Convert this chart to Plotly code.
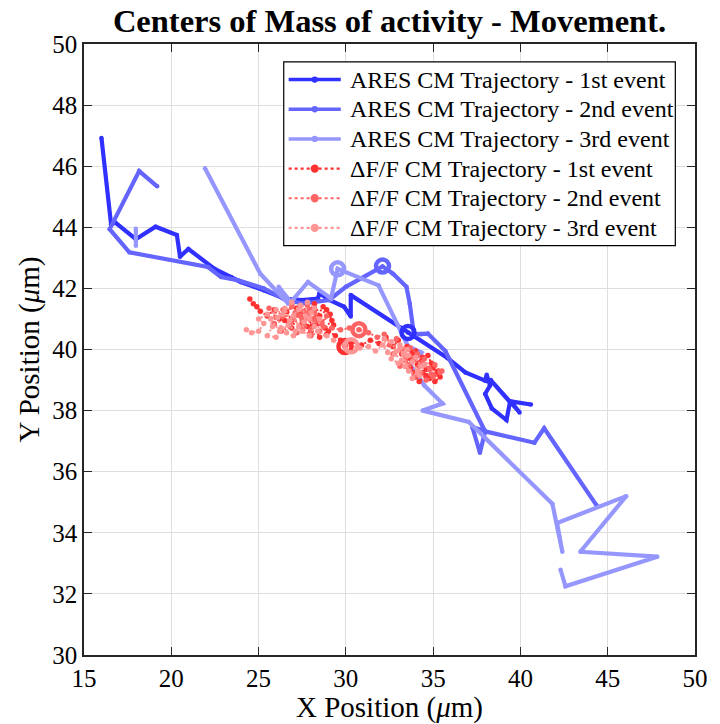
import plotly.graph_objects as go

# ARES centre-of-mass trajectories (x, y in micrometres); None breaks a line
ares1_x = [16.0, 16.55, 16.8, 17.97, 19.1, 20.32, 20.5, 20.98, 22.48, 23.42, 23.98, 25.3, 26.5, 27.5,
           28.4, 28.49, 29.05, 29.9, 30.28, 30.28, 33.56, 35.8, 36.85, 37.98, 38.07, 38.26, 37.98,
           38.36, 39.2, 39.4, 38.3, 39.4, 39.95, 39.45, 40.6]
ares1_y = [46.92, 44.1, 44.15, 43.61, 44.02, 43.75, 43.04, 43.29, 42.64, 42.37, 42.21, 41.94, 41.66, 41.62,
           41.67, 41.84, 41.62, 41.4, 41.08, 41.78, 40.56, 39.73, 39.25, 38.98, 39.17, 38.82, 38.55,
           38.07, 37.69, 38.28, 39.0, 38.3, 37.94, 38.3, 38.2]

ares2_x = [19.19, 18.16, 16.47, 17.6, 22.1, 22.85, 23.8, 25.3, 26.4, 27.5, 29.05, 30.0, 32.1, 32.7,
           33.47, 33.66, 33.9, 34.3, 34.7, 35.7, 37.95, 37.25, 37.68, 37.98, 40.8, 41.36, 44.37]
ares2_y = [45.34, 45.84, 43.94, 43.18, 42.7, 42.37, 42.27, 42.0, 41.67, 41.5, 41.62, 42.05, 42.72, 42.48,
           42.05, 41.5, 40.5, 40.5, 40.52, 39.95, 37.35, 37.45, 36.62, 37.32, 36.95, 37.42, 34.89]

ares3_x = [17.97, 17.97, None, 21.93, 25.1, 26.7, 26.15, 26.85, 27.83, 29.15, 29.53, 31.87, 33.0, 33.56,
           34.32, 33.66, 34.5, 35.54, 34.4, 37.04, 41.83, 42.4, 42.1, 46.06, 43.43, 47.84, 42.58, 42.3]
ares3_y = [43.95, 43.4, None, 45.93, 42.48, 41.5, 42.05, 41.55, 42.21, 41.67, 42.64, 42.1, 40.76, 40.11,
           39.9, 39.52, 38.82, 38.23, 38.0, 37.63, 34.95, 33.38, 34.32, 35.2, 33.38, 33.22, 32.25, 32.79]

# dF/F centre-of-mass trajectories
dff1_x = [24.5, 24.7, 24.9, 25.1, 25.5, 25.9, 26.2, 26.6, 26.9, 27.2, 27.5, 27.9, 28.2, 28.5, 28.9, 29.2,
          28.8, 28.4, 28.0, 27.6, 27.3, 26.9, 26.5, 26.9, 27.4, 27.8, 28.3, 28.7, 29.1, 29.3, 28.9, 28.5,
          28.1, 27.7, 28.2, 28.6, 29.0, 29.4, 29.7, 29.95, 30.4, 30.9, 31.4, 31.9, 32.3, 32.7, 33.0, 33.2,
          33.5, 33.7, 34.0, 34.1, 34.4, 34.6, 34.9, 35.2, 34.8, 34.4, 34.0, 33.7, 33.4, 33.8, 34.3, 34.7,
          35.0, 35.4, 35.1, 34.6, 34.2, 33.9, 34.5, 35.3]
dff1_y = [41.65, 41.5, 41.4, 41.25, 41.1, 41.3, 41.0, 41.25, 40.95, 41.35, 40.85, 41.2, 41.5, 41.1, 41.3, 40.95,
          40.7, 40.85, 40.6, 40.95, 41.15, 40.7, 40.95, 41.45, 41.2, 40.75, 41.05, 41.4, 41.15, 40.8, 40.5, 40.4,
          40.8, 41.05, 41.3, 40.9, 40.6, 40.45, 40.3, 40.1, 40.25, 40.15, 40.3, 40.2, 40.4, 40.1, 40.3, 39.85,
          40.1, 39.7, 39.95, 39.5, 39.75, 39.35, 39.55, 39.2, 39.05, 39.25, 39.1, 39.4, 39.65, 39.9, 39.6, 39.8,
          39.4, 39.1, 38.95, 39.15, 38.95, 39.25, 39.5, 39.3]

dff2_x = [25.6, 26.0, 26.4, 26.8, 27.1, 27.5, 27.9, 28.3, 28.0, 27.6, 27.2, 26.8, 26.3, 25.9, 26.4, 26.9,
          27.4, 27.8, 28.2, 28.6, 28.9, 28.5, 28.0, 27.5, 27.0, 27.6, 28.1, 28.7, 29.2, 29.7, 30.2, 30.75,
          31.3, 31.8, 32.2, 32.5, 32.9, 32.7, 33.2, 33.4, 33.1, 33.6, 33.9, 34.2, 34.5, 34.8, 35.1, 35.4,
          35.0, 34.6, 34.3, 33.9, 33.6, 33.3, 33.7, 34.1, 34.4, 34.9, 35.5]
dff2_y = [41.35, 41.05, 41.3, 40.85, 41.2, 40.95, 41.3, 40.95, 40.65, 40.8, 40.55, 40.75, 40.6, 40.85, 41.1, 41.4,
          41.1, 41.45, 41.2, 40.85, 41.1, 40.6, 40.45, 40.7, 41.0, 41.25, 41.0, 40.75, 40.7, 40.65, 40.7, 40.65,
          40.55, 40.4, 40.5, 40.15, 40.35, 39.85, 40.0, 39.65, 39.45, 39.35, 39.7, 39.45, 39.7, 39.35, 39.5, 39.25,
          39.1, 39.0, 39.25, 39.1, 39.5, 39.85, 40.05, 39.85, 39.55, 39.2, 39.3]

dff3_x = [24.3, 24.6, 25.0, 25.3, 25.0, 25.5, 25.8, 25.5, 26.0, 26.3, 26.1, 26.5, 26.8, 26.6, 27.0, 27.3,
          27.0, 27.4, 27.7, 27.5, 27.9, 28.2, 27.9, 28.2, 27.8, 27.3, 26.9, 26.4, 26.0, 25.7, 26.2, 26.7,
          27.1, 27.6, 28.0, 28.5, 28.4, 28.9, 29.3, 29.8, 30.3, 30.8, 31.3, 31.7, 32.1, 32.4, 32.2, 32.6,
          32.9, 32.6, 33.0, 33.3, 33.1, 33.5, 33.4, 33.8, 34.1, 33.8, 34.3, 34.0, 33.6, 33.2, 32.8, 33.1,
          33.6, 34.2, 34.5]
dff3_y = [40.65, 40.55, 40.6, 40.85, 41.0, 41.15, 40.75, 40.45, 40.4, 40.7, 41.05, 41.35, 40.95, 40.55, 40.45, 40.75,
          41.1, 41.45, 41.1, 40.6, 40.45, 40.75, 41.0, 41.35, 41.55, 41.3, 41.55, 41.15, 41.3, 41.0, 40.6, 40.8,
          40.6, 40.9, 41.2, 41.0, 40.6, 40.45, 40.3, 40.2, 40.12, 40.05, 40.1, 39.95, 40.15, 39.9, 40.35, 40.25,
          39.95, 39.7, 39.55, 39.85, 40.15, 40.0, 39.45, 39.6, 39.3, 39.05, 39.45, 39.75, 39.8, 39.65, 39.85, 40.05,
          39.3, 39.15, 39.5]

# highlighted centre of each trajectory
ares_mark_x = [33.56, 32.1, 29.53]
ares_mark_y = [40.56, 42.73, 42.64]
dff_mark_x = [29.95, 30.75, 30.3]
dff_mark_y = [40.1, 40.65, 40.12]

labels = [
    "ARES CM Trajectory - 1st event",
    "ARES CM Trajectory - 2nd event",
    "ARES CM Trajectory - 3rd event",
    "\u0394F/F CM Trajectory - 1st event",
    "\u0394F/F CM Trajectory - 2nd event",
    "\u0394F/F CM Trajectory - 3rd event",
]

blues = ["#3030ff", "#6464ff", "#9696ff"]
reds = ["#ff3030", "#ff6464", "#ff9696"]

FONT = "Liberation Serif"
W, H = 720, 724
ML, MR, MT, MB = 84, 15, 44, 62
PW, PH = W - ML - MR, H - MT - MB

fig = go.Figure()

for xs, ys, c, name in zip([ares1_x, ares2_x, ares3_x], [ares1_y, ares2_y, ares3_y], blues, labels[:3]):
    fig.add_trace(go.Scatter(
        x=xs, y=ys, mode="lines+markers", name=name, showlegend=False,
        line=dict(color=c, width=4.2), marker=dict(color=c, size=4.5),
    ))

for xs, ys, c, name in zip([dff1_x, dff2_x, dff3_x], [dff1_y, dff2_y, dff3_y], reds, labels[3:]):
    fig.add_trace(go.Scatter(
        x=xs, y=ys, mode="lines+markers", name=name, showlegend=False,
        line=dict(color=c, width=2.0, dash="2px,2px"), marker=dict(color=c, size=5.5),
    ))

for i in range(3):
    fig.add_trace(go.Scatter(
        x=[ares_mark_x[i]], y=[ares_mark_y[i]], mode="markers", showlegend=False,
        marker=dict(symbol="circle-open", size=13, color=blues[i], line=dict(width=4.5, color=blues[i])),
    ))
for i in range(3):
    fig.add_trace(go.Scatter(
        x=[dff_mark_x[i]], y=[dff_mark_y[i]], mode="markers", showlegend=False,
        marker=dict(symbol="circle-open", size=13, color=reds[i], line=dict(width=4.5, color=reds[i])),
    ))


# legend box drawn in paper coordinates (pixel helpers relative to the plot area)
def px(xpix):
    return (xpix - ML) / PW


def py(ypix):
    return 1 - (ypix - MT) / PH


shapes = []
annotations = []
box_l, box_r, box_t, box_b = 287, 685, 62, 248
shapes.append(dict(type="rect", xref="paper", yref="paper", x0=px(box_l), x1=px(box_r),
                   y0=py(box_b), y1=py(box_t), line=dict(color="#000", width=1.2),
                   fillcolor="white", layer="above"))
row0, row_gap = 80, 30
sym_l, sym_r, txt_x = 292, 345, 352
sym_c = (sym_l + sym_r) / 2
for i, lab in enumerate(labels):
    yrow = row0 + i * row_gap
    if i < 3:
        col, lw, dash, msz = blues[i], 3.5, "solid", 3.2
    else:
        col, lw, dash, msz = reds[i - 3], 2.2, "dot", 4.2
    shapes.append(dict(type="line", xref="paper", yref="paper", x0=px(sym_l), x1=px(sym_r),
                       y0=py(yrow), y1=py(yrow), line=dict(color=col, width=lw, dash=dash), layer="above"))
    shapes.append(dict(type="circle", xref="paper", yref="paper",
                       x0=px(sym_c - msz), x1=px(sym_c + msz), y0=py(yrow + msz), y1=py(yrow - msz),
                       fillcolor=col, line=dict(color=col, width=0), layer="above"))
    annotations.append(dict(x=px(txt_x), y=py(yrow), xref="paper", yref="paper", text=lab,
                            showarrow=False, xanchor="left", yanchor="middle",
                            font=dict(family=FONT, size=24, color="#000")))

axis_common = dict(
    showline=True, linecolor="#262626", linewidth=1.5, mirror="allticks",
    ticks="inside", ticklen=8, tickwidth=1.3, tickcolor="#262626",
    showgrid=True, gridcolor="#dedede", gridwidth=1,
    zeroline=False, tickfont=dict(family=FONT, size=25, color="#000"),
)

fig.update_layout(
    width=W, height=H,
    margin=dict(l=ML, r=MR, t=MT, b=MB),
    paper_bgcolor="white", plot_bgcolor="white",
    title=dict(
        text="<b>Centers of Mass of activity - Movement.</b>",
        x=0.5, xref="paper", y=0.972, yref="container", yanchor="middle",
        font=dict(family=FONT, size=32.5, color="#000"),
    ),
    xaxis=dict(range=[15, 50], dtick=5, tick0=15,
               title=dict(text="X Position (<i>\u03bc</i>m)", font=dict(family=FONT, size=29, color="#000"), standoff=0),
               **axis_common),
    yaxis=dict(range=[30, 50], dtick=2, tick0=30,
               title=dict(text="Y Position (<i>\u03bc</i>m)", font=dict(family=FONT, size=29, color="#000"), standoff=4),
               **axis_common),
    shapes=shapes,
    annotations=annotations,
    showlegend=False,
)

fig.write_html("out.html")
